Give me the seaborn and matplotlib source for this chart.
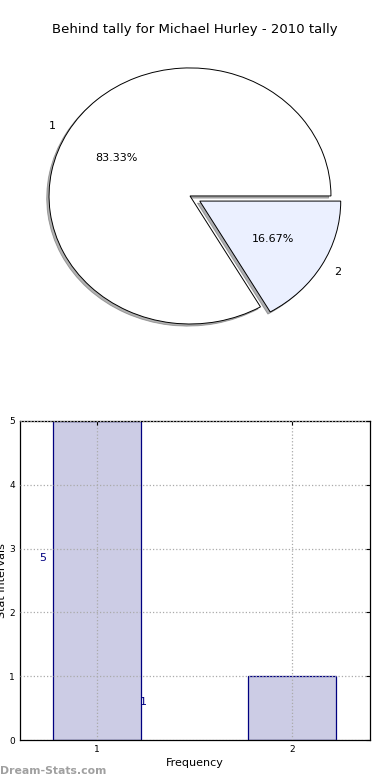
import pandas as pd
import seaborn as sns
import matplotlib
matplotlib.use("Agg")
import matplotlib.pyplot as plt

# data
slice_labels = ['1', '2']
slice_values = [5, 1]
slice_colors = ['#ffffff', '#ebf0ff']
bar_x = [1, 2]
bar_counts = [5, 1]
bar_texts = ['5', '1']
title = 'Behind tally for Michael Hurley - 2010 tally'

sns.set_style('white')
plt.rcParams['font.family'] = ['DejaVu Sans']
plt.rcParams.update({'text.color': 'black', 'axes.labelcolor': 'black',
                     'xtick.color': 'black', 'ytick.color': 'black'})

fig = plt.figure(figsize=(3.9, 7.8), dpi=100)

# pie (not equal aspect, so it is an ellipse like the original)
ax_pie = fig.add_axes([20 / 390, 1 - 340 / 780, 350 / 390, 290 / 780])
wedges, texts, autotexts = ax_pie.pie(
    slice_values, labels=slice_labels, colors=slice_colors,
    explode=[0, 0.08], autopct='%.2f%%',
    shadow=dict(ox=-0.012, oy=-0.012, shade=0.6, edgecolor='#555555', linewidth=0.6),
    startangle=0, counterclock=True,
    wedgeprops=dict(edgecolor='black', linewidth=0.7),
    textprops=dict(fontsize=8))
ax_pie.set_aspect('auto')
ax_pie.set_xlim(-1.206, 1.277)
ax_pie.set_ylim(-1.125, 1.14)
ax_pie.axis('off')
fig.text(0.5, 1 - 30 / 780, title, ha='center', va='center', fontsize=9.5)

# bars
ax = fig.add_axes([20 / 390, 1 - 740 / 780, 350 / 390, 319 / 780])
df = pd.DataFrame({'x': bar_x, 'count': bar_counts})
sns.barplot(data=df, x='x', y='count', native_scale=True, width=0.45,
            color='#ccccE5', saturation=1, edgecolor='#000080',
            linewidth=0.9, ax=ax)
ax.set_xlim(0.605, 2.4)
ax.set_ylim(0, 5)
ax.set_xticks(bar_x)
ax.set_yticks(range(0, 6))
ax.tick_params(labelsize=6.5, length=3, direction='in', top=True, right=True)
ax.grid(True, linestyle=':', color='#aaaaaa', linewidth=0.9)
ax.set_axisbelow(False)
for sp in ax.spines.values():
    sp.set_color('black')
    sp.set_linewidth(0.9)
ax.set_xlabel('Frequency', fontsize=8, labelpad=3)
ax.set_ylabel('Stat Intervals', fontsize=8, labelpad=2)
ax.text(0.72, 2.85, bar_texts[0], color='#000080', fontsize=8, ha='center', va='center')
ax.text(1.235, 0.6, bar_texts[1], color='#000080', fontsize=8, ha='center', va='center')

fig.text(0.0, 1 - 771 / 780, 'Dream-Stats.com', color='#a0a0a0', fontsize=7.8,
         fontweight='bold', ha='left', va='center')

fig.savefig('out.png', dpi=100)
